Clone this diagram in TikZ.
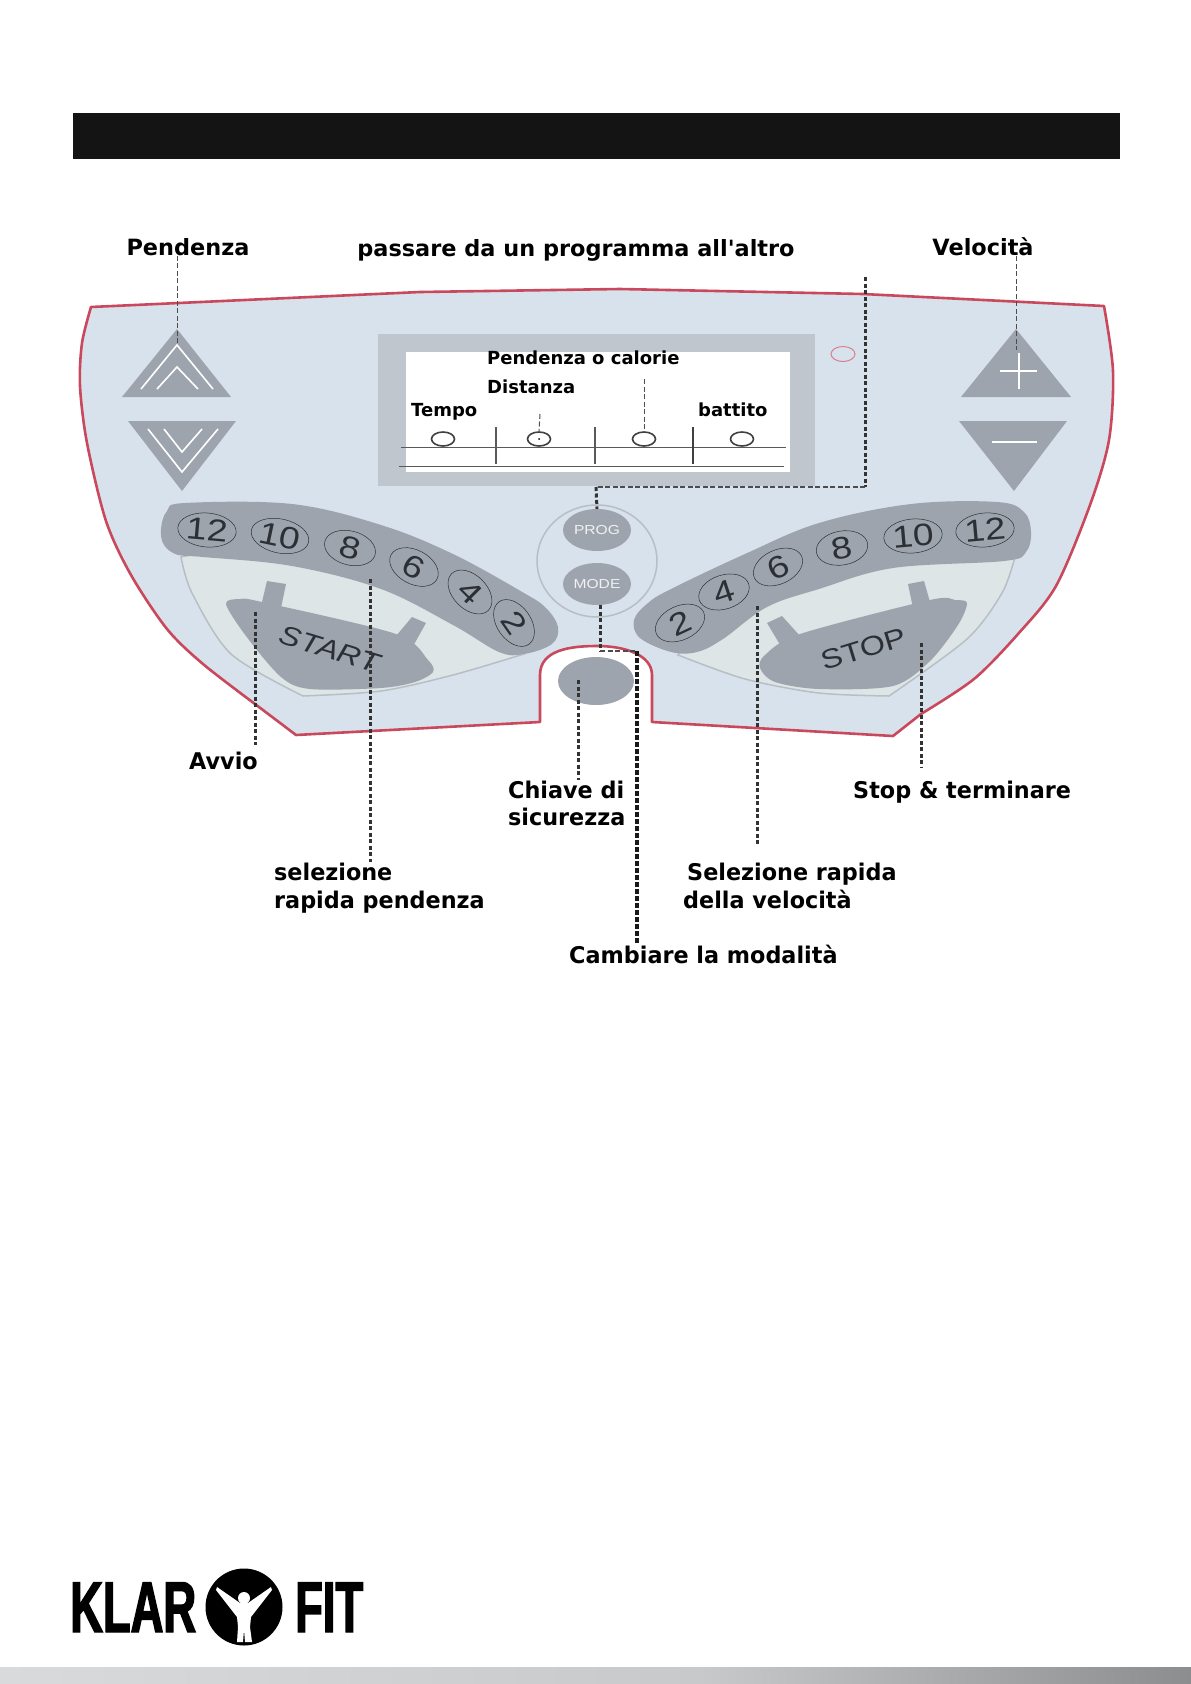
\documentclass[tikz,border=0pt]{standalone}
\usepackage{fontspec}
\newfontfamily\labelfont{DejaVu Sans}
\newfontfamily\notefont[FakeStretch=0.97]{DejaVu Sans}
\newfontfamily\keyfont[FakeStretch=1.2]{Liberation Sans}
\newfontfamily\logofont[FakeBold=2,FakeStretch=0.63]{Liberation Sans}
\usetikzlibrary{shapes.geometric, positioning}
\definecolor{panelblue}{HTML}{D8E2EC}
\definecolor{palearea}{HTML}{DDE5E7}
\definecolor{keygray}{HTML}{9EA4AD}
\definecolor{framegray}{HTML}{BFC6CE}
\definecolor{rimgray}{HTML}{B7BFC5}
\definecolor{rimred}{HTML}{C9485C}
\definecolor{numink}{HTML}{2C3036}
\definecolor{barlight}{HTML}{D8DADB}
\definecolor{barmid}{HTML}{C8C9CB}
\definecolor{bardark}{HTML}{8C8D8E}
\begin{document}
\begin{tikzpicture}[
    x=1pt, y=-1pt,
    toplabel/.style={font=\fontsize{22.4}{22.4}\labelfont\bfseries, inner sep=0pt},
    screenlabel/.style={font=\fontsize{18}{18}\labelfont\bfseries, inner sep=0pt},
    notelabel/.style={font=\fontsize{23}{23}\notefont\bfseries, inner sep=0pt},
    numkey/.style={draw=numink, line width=0.5pt, ellipse, inner sep=0pt,
      minimum width=52pt, minimum height=34pt, text=numink,
      font=\fontsize{31}{31}\keyfont},
    smallkey/.style={fill=keygray, ellipse, inner sep=0pt, text=white!85!keygray,
      minimum width=68pt, minimum height=42pt, font=\fontsize{13}{13}\keyfont},
    lamp/.style={draw=black!75, line width=1.6pt, ellipse, inner sep=0pt,
      minimum width=23pt, minimum height=14pt},
    chevron/.style={draw=white, line width=1.6pt},
    leadthin/.style={draw=black!70, line width=1pt, dash pattern=on 5pt off 2.5pt},
    leadbold/.style={draw=black!80, line width=3pt, dash pattern=on 4pt off 2.5pt},
    leadheavy/.style={draw=black!90, line width=3.8pt, dash pattern=on 5pt off 2pt}
  ]
    \useasboundingbox (0,0) rectangle (1191,1684);
    \fill[black!92] (73,113) rectangle (1120,159);
    \fill[panelblue, draw=rimred, line width=2.6pt, line join=round]
      (91,307) -- (420,292) -- (620,289) -- (863,294) -- (1104,306)
      -- plot[smooth] coordinates {(1104,306) (1113,371) (1109,440) (1090,505) (1056,586) (1018,634) (974,679) (921,714)}
      -- (893,736) -- (652,722) -- (652,675)
      .. controls (652,655) and (625,646) .. (597,646)
      .. controls (570,646) and (540,650) .. (540,675)
      -- (540,722) -- (296,735) -- (255,704)
      -- plot[smooth] coordinates {(255,704) (203,664) (167,629) (131,575) (106,521) (87,443) (80,386) (82,343) (91,307)}
      -- cycle;
    \fill[keygray] (177,329) -- (231,397) -- (122,397) -- cycle;
    \fill[keygray] (128,421) -- (236,421) -- (182,491) -- cycle;
    \fill[keygray] (1016,329) -- (1071,397) -- (961,397) -- cycle;
    \fill[keygray] (959,421) -- (1067,421) -- (1014,491) -- cycle;
    \draw[chevron] (141,389) -- (177,345) -- (213,389);
    \draw[chevron] (157,389) -- (177,367) -- (198,389);
    \draw[chevron] (148,429) -- (182,472) -- (218,429);
    \draw[chevron] (164,429) -- (182,452) -- (202,429);
    \draw[chevron, line width=2pt] (1000,371) -- (1037,371);
    \draw[chevron, line width=2pt] (1019,353) -- (1019,389);
    \draw[chevron, line width=2.4pt] (992,442) -- (1037,442);
    \fill[framegray] (378,334) rectangle (815,486);
    \fill[white] (406,352) rectangle (790,472);
    \draw[black!65, line width=0.9pt] (401,447) -- (786,447);
    \draw[black!65, line width=0.9pt] (399,466) -- (784,466);
    \draw[black!65, line width=1.2pt] (496,427) -- (496,464);
    \draw[black!65, line width=1.2pt] (595,427) -- (595,464);
    \draw[black!75, line width=1.5pt] (693,427) -- (693,464);
    \node[lamp] (lampA) at (443,439) {};
    \node[lamp] (lampB) at (539,439) {};
    \node[lamp] (lampC) at (644,439) {};
    \node[lamp] (lampD) at (742,439) {};
    \fill[black] (lampB.center) circle (1pt);
    \node[draw=rimred!70, line width=1pt, ellipse, minimum width=24pt, minimum height=15pt, inner sep=0pt] (redlamp) at (843,354) {};
    \draw[rimgray, line width=1.5pt, fill=palearea]
      plot[smooth] coordinates {(181,557) (192,593) (231,654) (303,696)}
      -- plot[smooth] coordinates {(303,696) (381,691) (453,675) (524,654)}
      -- (500,620) -- (300,530) -- cycle;
    \draw[rimgray, line width=1.5pt, fill=palearea]
      plot[smooth] coordinates {(1015,557) (1002,593) (967,639) (889,696)}
      -- plot[smooth] coordinates {(889,696) (819,693) (745,679) (678,655)}
      -- (700,620) -- (900,530) -- cycle;
    \fill[keygray] plot[smooth cycle, tension=0.6] coordinates {(161,529) (167,511) (185,503) (292,504) (381,525) (453,554) (524,593) (546,608) (558,627) (552,644) (524,654) (499,652) (453,625) (381,589) (292,566) (203,557) (178,555) (164,545)};
    \fill[keygray] plot[smooth cycle, tension=0.6] coordinates {(1031,532) (1024,512) (997,502) (911,504) (819,523) (745,554) (671,589) (648,603) (634,620) (640,638) (671,652) (697,652) (723,639) (767,607) (819,589) (893,568) (1004,561) (1026,552)};
    \node[numkey, rotate=-5] (slopeK12) at (207,530) {12};
    \node[numkey, rotate=-12] (slopeK10) at (280,536) {10};
    \node[numkey, rotate=-15] (slopeK8) at (350,548) {8};
    \node[numkey, rotate=-28] (slopeK6) at (414,567) {6};
    \node[numkey, rotate=-45] (slopeK4) at (470,592) {4};
    \node[numkey, rotate=-55] (slopeK2) at (514,623) {2};
    \node[numkey, rotate=25] (speedK2) at (680,623) {2};
    \node[numkey, rotate=18] (speedK4) at (724,592) {4};
    \node[numkey, rotate=25] (speedK6) at (778,567) {6};
    \node[numkey, rotate=10] (speedK8) at (842,548) {8};
    \node[numkey, rotate=5] (speedK10) at (913,536) {10};
    \node[numkey, rotate=5] (speedK12) at (985,530) {12};
    \fill[keygray] (262,602) -- (267,581) -- (286,584) -- (281,608) -- cycle;
    \fill[keygray] (396,636) -- (412,617) -- (426,623) -- (412,648) -- cycle;
    \fill[keygray] plot[smooth cycle, tension=0.5] coordinates {(226,604) (240,599) (262,602) (396,634) (428,660) (433,672) (415,682) (381,688) (310,689) (281,677) (246,636)};
    \fill[keygray] (930,602) -- (924,581) -- (908,584) -- (913,608) -- cycle;
    \fill[keygray] (800,636) -- (782,616) -- (767,623) -- (782,648) -- cycle;
    \fill[keygray] plot[smooth cycle, tension=0.5] coordinates {(967,603) (955,600) (930,600) (800,634) (765,655) (760,668) (775,682) (819,689) (893,686) (930,661) (958,625)};
    \node[text=numink, rotate=-17, font=\fontsize{27}{27}\keyfont\itshape, inner sep=0pt] (startkey) at (330,649) {START};
    \node[text=numink, rotate=17, font=\fontsize{27}{27}\keyfont, inner sep=0pt] (stopkey) at (864,649) {STOP};
    \node[draw=rimgray, line width=1.5pt, ellipse, minimum width=120pt, minimum height=112pt, inner sep=0pt] (pairring) at (597,561) {};
    \node[smallkey] (progkey) at (597,530) {PROG};
    \node[smallkey] (modekey) at (597,584) {MODE};
    \node[fill=keygray, ellipse, minimum width=76pt, minimum height=48pt, inner sep=0pt] (safetykey) at (596,681) {};
    \node[toplabel] (pendenza) at (188,247) {Pendenza};
    \node[toplabel] (passare) at (576,250) {passare da un programma all'altro};
    \node[toplabel] (velocita) at (983,247) {Velocità};
    \node[screenlabel, anchor=mid west] (pendcal) at (487,362) {Pendenza o calorie};
    \node[screenlabel, anchor=mid west] (distanza) at (487,391) {Distanza};
    \node[screenlabel, anchor=mid west] (tempo) at (411,414) {Tempo};
    \node[screenlabel, anchor=mid west] (battito) at (698,414) {battito};
    \node[notelabel, anchor=mid west] (avvio) at (189,767) {Avvio};
    \node[notelabel, anchor=mid west] (chiave) at (508,796) {Chiave di};
    \node[notelabel, anchor=mid west] (sicurezza) at (508,823) {sicurezza};
    \node[notelabel, anchor=mid west] (stopterm) at (853,796) {Stop \& terminare};
    \node[notelabel, anchor=mid west] (selezione) at (274,878) {selezione};
    \node[notelabel, anchor=mid west] (rapidapend) at (274,906) {rapida pendenza};
    \node[notelabel, anchor=mid west] (selrapida) at (687,878) {Selezione rapida};
    \node[notelabel, anchor=mid west] (dellavel) at (683,906) {della velocità};
    \node[notelabel, anchor=mid west] (cambiare) at (569,961) {Cambiare la modalità};
    \coordinate (pendtip) at (177,343);
    \coordinate (veltip) at (1016,350);
    \coordinate (avviotip) at (255,612);
    \coordinate (avvioend) at (255,745);
    \coordinate (slopetip) at (370,579);
    \coordinate (slopeend) at (370,862);
    \coordinate (safetytip) at (578,680);
    \coordinate (safetyend) at (578,780);
    \coordinate (speedtip) at (757,606);
    \coordinate (speedend) at (757,845);
    \coordinate (stoptip) at (921,643);
    \coordinate (stopend) at (921,768);
    \coordinate (progstart) at (865,277);
    \coordinate (progcorner) at (865,487);
    \coordinate (progturn) at (596,487);
    \coordinate (modeturn) at (600,651);
    \coordinate (modecorner) at (637,651);
    \coordinate (modeend) at (637,943);
    \coordinate (distop) at (540,414);
    \coordinate (caltop) at (644,379);
    \draw[leadthin] (pendtip |- pendenza.south) -- (pendtip);
    \draw[leadthin] (veltip |- velocita.south) -- (veltip);
    \draw[leadthin] (distop) -- (lampB.north);
    \draw[leadthin] (caltop) -- (lampC.north);
    \draw[leadbold] (avviotip) -- (avvioend);
    \draw[leadbold] (slopetip) -- (slopeend);
    \draw[leadbold] (safetytip) -- (safetyend);
    \draw[leadbold] (speedtip) -- (speedend);
    \draw[leadbold] (stoptip) -- (stopend);
    \draw[leadbold] (progstart) -- (progcorner);
    \draw[leadthin, line width=1.4pt] (progcorner) -- (progturn);
    \draw[leadbold] (progturn) -- (progkey.north);
    \draw[leadbold] (modekey.south -| modeturn) -- (modeturn);
    \draw[leadthin, line width=1.4pt] (modeturn) -- (modecorner);
    \draw[leadheavy] (modecorner) -- (modeend);
    \node[font=\fontsize{72}{72}\logofont\bfseries, anchor=base west, inner sep=0pt] (klar) at (70,1632) {KLAR};
    \node[font=\fontsize{72}{72}\logofont\bfseries, anchor=base west, inner sep=0pt] (fit) at (295,1632) {FIT};
    \node[fill=black, circle, minimum size=77pt, inner sep=0pt] (logoball) at (244,1607) {};
    \fill[white] (217,1587) -- (240,1603) -- (248,1603) -- (271,1587) -- (272,1590) -- (251,1617) -- (250,1627) -- (252,1642) -- (245,1642) -- (244,1630) -- (243,1642) -- (237,1642) -- (238,1627) -- (237,1617) -- (216,1590) -- cycle;
    \fill[white] (244,1598) circle (6pt);
    \shade[left color=barlight, right color=barmid] (0,1667) rectangle (700,1684);
    \shade[left color=barmid, right color=bardark] (700,1667) rectangle (1191,1684);
  \end{tikzpicture}
\end{document}
